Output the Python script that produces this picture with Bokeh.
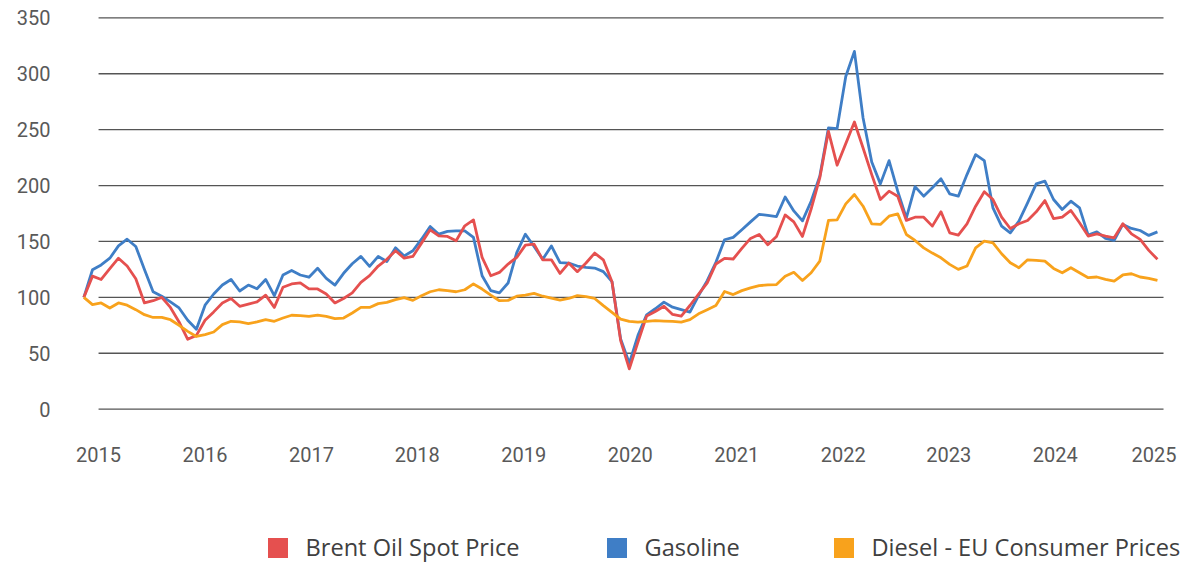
from bokeh.plotting import figure
from bokeh.layouts import column
from bokeh.models import ColumnDataSource, FixedTicker, Range1d, Legend, LegendItem
from bokeh.embed import file_html
from bokeh.resources import INLINE

# ---- data (index values, start = 100) ----
brent = [100, 119, 116, 125.6, 135, 128, 116.7, 95, 97, 100,
         91, 78, 62.5, 66, 79.5, 87, 95, 99, 92, 94,
         96, 102, 91, 109, 112, 113, 107.5, 107.5, 103, 95,
         99, 104, 113.4, 119.4, 128, 134, 141.7, 135, 136.6, 148.5,
         160.4, 155, 154.5, 150.6, 164, 169.3, 135.7, 119.3, 122.3, 129.8,
         135.7, 146.7, 147.6, 133.6, 133.6, 121.4, 130.7, 123, 130.7, 139.6,
         133.6, 114, 61.3, 36, 60, 83.2, 87.4, 92, 84.7, 83.2,
         92.7, 102.8, 113, 129.8, 134.9, 134.3, 143.8, 152.7, 156.2, 147,
         154.5, 173.7, 167.5, 154.5, 179, 206.8, 248.5, 218.2, 237.5, 256.8,
         233.6, 209.8, 187.5, 195, 190.5, 168.8, 171.7, 171.7, 163.7, 176.5,
         157.7, 155.7, 165.8, 181.5, 194.5, 187.5, 171.7, 161.6, 165.8, 168.8,
         176.5, 186.6, 170.5, 171.7, 177.7, 166.7, 154.8, 156.8, 154.8, 153.3,
         165.8, 156.8, 151.8, 142, 134]

gasoline = [100, 124.7, 129, 135, 146, 152, 145.5, 125, 105, 101,
            96, 90.5, 79.5, 71.4, 93, 103, 111, 116, 105.7, 111,
            107.7, 116, 101.5, 120, 124, 120, 118, 126, 117, 111,
            121.5, 130, 136.6, 127.7, 136.6, 132, 144.3, 137, 141.7, 152,
            163.4, 156.5, 159, 159.5, 159.5, 153.6, 119.3, 106, 104, 112.8,
            140, 156.5, 145.5, 134, 146, 131, 130.7, 128, 126.8, 126.2,
            123, 114, 62.8, 41, 66, 84.4, 89.8, 95.7, 91.2, 89,
            86.8, 101.6, 115, 131.3, 151.5, 153.6, 160.4, 167.5, 174.3, 173.4,
            172.3, 189.8, 177.3, 168.4, 186, 208.3, 251.5, 250.9, 297.6, 320,
            260.4, 221.1, 201.5, 222.3, 195, 171.1, 199, 190.5, 198, 206,
            192.6, 190.5, 209.8, 227.7, 222.3, 180, 163.7, 157.7, 168.2, 184.5,
            201.5, 203.9, 187.5, 178.6, 186, 180, 155.7, 158.6, 152.7, 150.9,
            165.2, 161.6, 159.8, 155.4, 158.6]

diesel = [100, 93.5, 95, 90.5, 95, 93, 89, 84.5, 82, 82,
          80, 75, 69.6, 65, 66.7, 69, 75.6, 78.6, 78, 76.5,
          78, 80, 78.6, 81.5, 84, 83.6, 83, 84, 83, 81,
          81.5, 86, 91, 91, 94.4, 95.5, 98, 99.7, 97.3, 101.5,
          105, 106.8, 106, 105, 106.8, 112, 107.4, 102, 97, 97.3,
          101, 102, 103.6, 101, 99.4, 97.6, 99, 101.5, 100.6, 99,
          92.6, 86.6, 80.6, 78.5, 77.9, 78.5, 79.1, 78.8, 78.5, 77.9,
          80, 85.3, 88.9, 92.7, 105.2, 102.5, 106, 108.5, 110.5, 111.1,
          111.4, 118.8, 122.4, 115, 122, 132.4, 168.8, 169.3, 183.6, 192,
          181.5, 165.8, 165.2, 172.6, 174.7, 156.2, 150.9, 144.3, 139.6, 135.4,
          129.5, 125, 128, 144.3, 150.3, 148.8, 139, 131, 126.5, 133.6,
          133, 132.4, 125.9, 122, 126.5, 122, 117.6, 118.2, 116.1, 114.6,
          120, 121.1, 118.2, 117, 115.2]

year_labels = ["2015", "2016", "2017", "2018", "2019", "2020",
               "2021", "2022", "2023", "2024", "2025"]
year_positions = [1.7, 14.0, 26.3, 38.5, 50.8, 63.1, 75.4, 87.7, 99.9, 112.2, 123.6]
y_ticks = [0, 50, 100, 150, 200, 250, 300, 350]

series_keys = ["brent", "gasoline", "diesel"]
series_names = ["Brent Oil Spot Price", "Gasoline", "Diesel - EU Consumer Prices"]
colors = {"brent": "#e5504f", "gasoline": "#3f7ec6", "diesel": "#f8a21c"}

months = list(range(len(brent)))
source = ColumnDataSource(dict(m=months, brent=brent, gasoline=gasoline, diesel=diesel))

FONT = "Roboto"
LEG_FONT = "Open Sans"
X_START = -0.27
X_END = 127.47        # frame reaches the right edge of the page
GRID_END = 124.7      # gridlines stop a little after the last month

p = figure(frame_width=1106, frame_height=398,
           x_range=Range1d(X_START, X_END), y_range=Range1d(-3, 353),
           output_backend="svg", toolbar_location=None,
           min_border_left=81, min_border_right=0, min_border_top=14, min_border_bottom=68)
p.outline_line_color = None
p.xgrid.visible = False
p.ygrid.visible = False
p.background_fill_color = "white"
p.border_fill_color = "white"

# horizontal gridlines, starting at the first year tick
grid_src = ColumnDataSource(dict(x0=[year_positions[0]] * len(y_ticks),
                                 x1=[GRID_END] * len(y_ticks),
                                 y=y_ticks))
p.segment(x0="x0", x1="x1", y0="y", y1="y", source=grid_src,
          line_color="#555555", line_width=1.3)

# series
p.line("m", "gasoline", source=source, line_color=colors["gasoline"], line_width=2.8, line_join="round")
p.line("m", "brent", source=source, line_color=colors["brent"], line_width=2.8, line_join="round")
p.line("m", "diesel", source=source, line_color=colors["diesel"], line_width=2.8, line_join="round")

# axes
p.yaxis.ticker = FixedTicker(ticks=y_ticks)
p.yaxis.axis_line_color = None
p.yaxis.major_tick_line_color = None
p.yaxis.minor_tick_line_color = None
p.yaxis.major_tick_out = 0
p.yaxis.major_tick_in = 0
p.yaxis.major_label_standoff = 31
p.yaxis.major_label_text_font = FONT
p.yaxis.major_label_text_font_size = "20px"
p.yaxis.major_label_text_color = "#595959"

p.xaxis.ticker = FixedTicker(ticks=year_positions)
p.xaxis.major_label_overrides = {pos: lab for pos, lab in zip(year_positions, year_labels)}
p.xaxis.axis_line_color = None
p.xaxis.major_tick_line_color = None
p.xaxis.minor_tick_line_color = None
p.xaxis.major_tick_out = 0
p.xaxis.major_tick_in = 0
p.xaxis.major_label_standoff = 34
p.xaxis.major_label_text_font = FONT
p.xaxis.major_label_text_font_size = "20px"
p.xaxis.major_label_text_color = "#595959"

# ---- legend strip under the chart ----
leg = figure(width=1187, height=82, output_backend="svg", toolbar_location=None,
             x_axis_type=None, y_axis_type=None, min_border=0)
leg.outline_line_color = None
leg.xgrid.visible = False
leg.ygrid.visible = False

# zero-area (invisible) quads on the series, used only for the square swatches
swatches = {}
for key in series_keys:
    swatches[key] = leg.quad(left="m", right="m", top=key, bottom=key, source=source,
                             fill_color=colors[key], line_color=None)

legend_x = {"brent": 183.5, "gasoline": 522.5, "diesel": 749.5}
for key, name in zip(series_keys, series_names):
    lg = Legend(items=[LegendItem(label=name, renderers=[swatches[key]])],
                orientation="horizontal", location=(legend_x[key], -1),
                glyph_width=25, glyph_height=25, label_standoff=16,
                padding=0, margin=0, border_line_color=None, background_fill_alpha=0,
                label_text_font=LEG_FONT, label_text_font_size="23.6px",
                label_text_color="#404040", label_height=25)
    leg.add_layout(lg, "center")

layout = column(p, leg, spacing=0)
open("out.html", "w").write(file_html(layout, INLINE))
